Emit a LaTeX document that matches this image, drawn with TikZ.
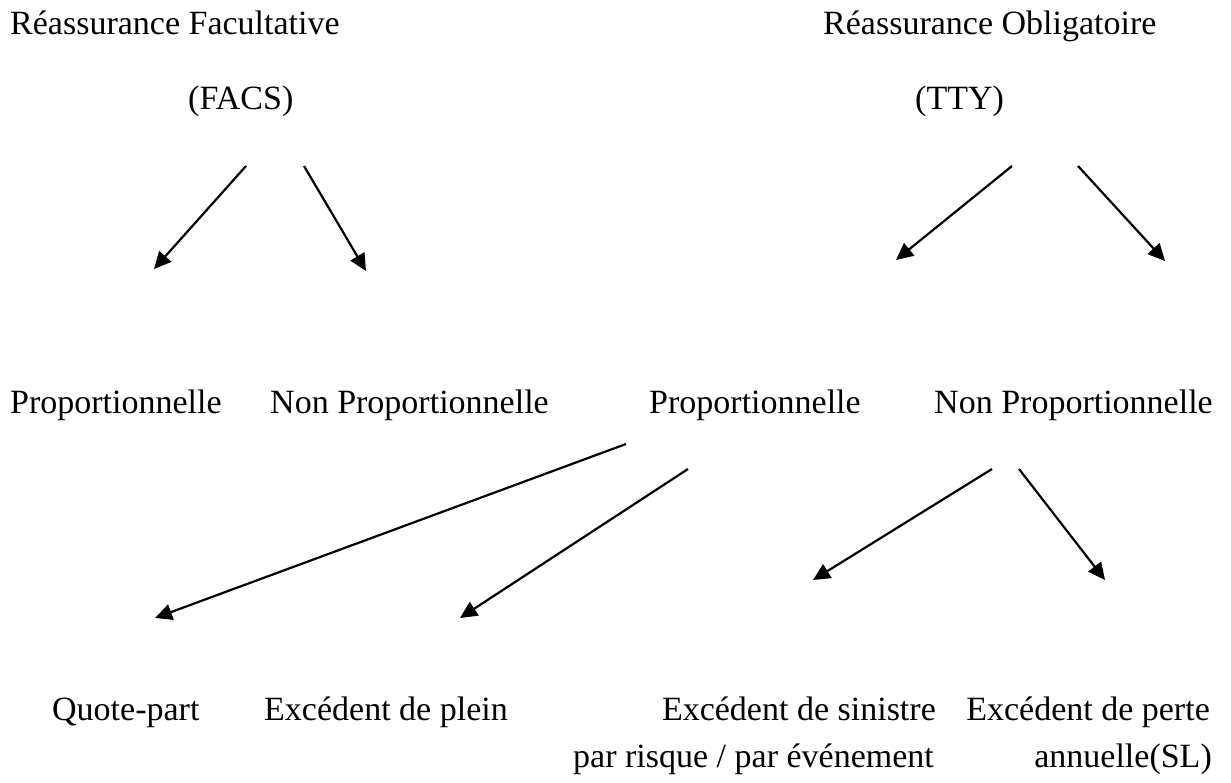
\documentclass[tikz,border=0pt]{standalone}
\usepackage{fontspec}
\setmainfont{Liberation Serif}
\usetikzlibrary{arrows.meta}
\tikzset{
  label/.style={anchor=base west, inner sep=0pt, font=\fontsize{34}{40}\selectfont},
  rlabel/.style={label, anchor=base east},
  link/.style={line width=2.2pt, -{Triangle[length=17pt,width=16pt]}}
}
\begin{document}
\begin{tikzpicture}[x=1pt,y=-1pt]
\useasboundingbox[fill=white] (0,0) rectangle (1231,782);

% top level
\node[label] (fac)  at (10,34)   {Réassurance Facultative};
\node[label] (facs) at (188,109) {(FACS)};
\node[label] (obl)  at (823,34)  {Réassurance Obligatoire};
\node[label] (tty)  at (915,109) {(TTY)};

% second level
\node[label]  (fp)  at (10,413)   {Proportionnelle};
\node[label]  (fnp) at (270,413)  {Non Proportionnelle};
\node[label]  (tp)  at (649,413)  {Proportionnelle};
\node[rlabel] (tnp) at (1213,413) {Non Proportionnelle};

% third level
\node[label]  (qp)   at (52,720)   {Quote-part};
\node[label]  (edp)  at (264,720)  {Excédent de plein};
\node[rlabel] (eds)  at (936,720)  {Excédent de sinistre};
\node[rlabel] (epa)  at (1210,720) {Excédent de perte};
\node[rlabel] (eds2) at (934,767)  {par risque / par événement};
\node[rlabel] (epa2) at (1212,767) {annuelle(SL)};

% arrow end points
\coordinate (a1s) at (246,166); \coordinate (a1e) at (154,269);
\coordinate (a2s) at (304,166); \coordinate (a2e) at (366,271);
\coordinate (a3s) at (1012,166); \coordinate (a3e) at (896,260);
\coordinate (a4s) at (1078,166); \coordinate (a4e) at (1165,261);
\coordinate (a5s) at (626,444); \coordinate (a5e) at (155,618);
\coordinate (a6s) at (688,469); \coordinate (a6e) at (460,618);
\coordinate (a7s) at (992,469); \coordinate (a7e) at (813,580);
\coordinate (a8s) at (1019,469); \coordinate (a8e) at (1105,580);

\draw[link] (a1s) -- (a1e);
\draw[link] (a2s) -- (a2e);
\draw[link] (a3s) -- (a3e);
\draw[link] (a4s) -- (a4e);
\draw[link] (a5s) -- (a5e);
\draw[link] (a6s) -- (a6e);
\draw[link] (a7s) -- (a7e);
\draw[link] (a8s) -- (a8e);
\end{tikzpicture}
\end{document}
